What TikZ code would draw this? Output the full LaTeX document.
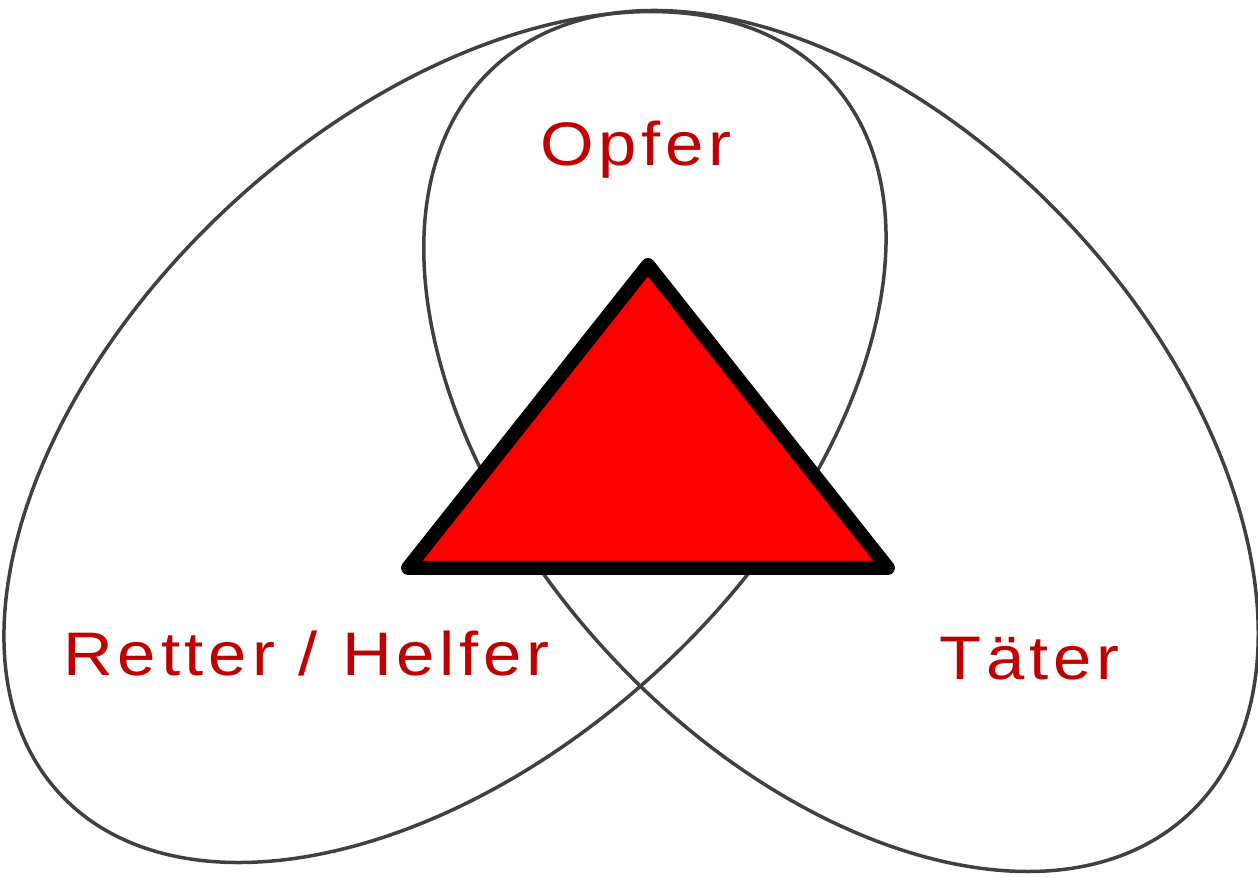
\documentclass[tikz,border=0pt]{standalone}
\usepackage{fontspec}
\newfontfamily\labelfont[LetterSpace=7]{Liberation Sans}
\definecolor{labelred}{HTML}{C00000}
\definecolor{loopgray}{HTML}{404040}
\newcommand{\rolename}[1]{\scalebox{1.12}[1]{#1}}

\begin{document}
\begin{tikzpicture}[x=0.02cm,y=0.02cm,
  loop/.style={draw=loopgray,line width=0.07cm},
  role/.style={anchor=base west,inner sep=0pt,text=labelred,font=\labelfont\fontsize{35}{42}\selectfont}]
\useasboundingbox (0,0) rectangle (1258,878);

% the two crossing loops
\coordinate (leftloop) at (445,441);
\coordinate (rightloop) at (841,437);
\draw[loop,rotate around={42.8:(leftloop)}] (leftloop) ellipse [x radius=525, y radius=316];
\draw[loop,rotate around={-47:(rightloop)}] (rightloop) ellipse [x radius=510, y radius=315];

% drama triangle
\coordinate (top) at (648,613);
\coordinate (bl) at (408,310);
\coordinate (br) at (888,310);
\draw[line width=0.28cm,line join=round,fill=red] (top) -- (bl) -- (br) -- cycle;

\node[role] (opfer) at (540,712) {\rolename{Opfer}};
\node[role] (retter) at (63,202) {\rolename{Retter / Helfer}};
\node[role] (taeter) at (939,198) {\rolename{Täter}};
\end{tikzpicture}
\end{document}
